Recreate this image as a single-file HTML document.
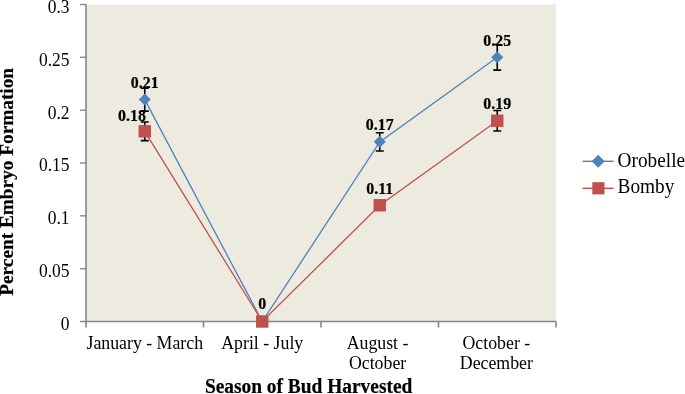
<!DOCTYPE html>
<html><head><meta charset="utf-8"><style>
html,body{margin:0;padding:0;background:#fff;}
body{width:685px;height:394px;overflow:hidden;}
svg{display:block;will-change:transform;}
text{font-family:"Liberation Serif",serif;fill:#000;}
.tk{font-size:17.5px;}
.lg{font-size:17.5px;}
.dl{font-size:15.5px;font-weight:bold;}
text[font-weight=bold]{stroke:#000;stroke-width:0.2px;}
.ti{font-size:19.2px;font-weight:bold;}
</style></head><body>
<svg width="685" height="394" viewBox="0 0 685 394">
<rect x="86.0" y="4.5" width="470.0" height="317.0" fill="#EDEBE0"/>
<path d="M86.0 4.2V322.0" stroke="#868686" stroke-width="1.6" fill="none"/>
<path d="M85.2 321.5H556.0" stroke="#868686" stroke-width="1.6" fill="none"/>
<path d="M80 321.50H86.0" stroke="#868686" stroke-width="1.4"/>
<path d="M80 268.67H86.0" stroke="#868686" stroke-width="1.4"/>
<path d="M80 215.83H86.0" stroke="#868686" stroke-width="1.4"/>
<path d="M80 163.00H86.0" stroke="#868686" stroke-width="1.4"/>
<path d="M80 110.17H86.0" stroke="#868686" stroke-width="1.4"/>
<path d="M80 57.33H86.0" stroke="#868686" stroke-width="1.4"/>
<path d="M80 4.50H86.0" stroke="#868686" stroke-width="1.4"/>
<path d="M86.00 321.5V327.5" stroke="#868686" stroke-width="1.6"/>
<path d="M203.50 321.5V327.5" stroke="#868686" stroke-width="1.6"/>
<path d="M321.00 321.5V327.5" stroke="#868686" stroke-width="1.6"/>
<path d="M438.50 321.5V327.5" stroke="#868686" stroke-width="1.6"/>
<path d="M556.00 321.5V327.5" stroke="#868686" stroke-width="1.6"/>
<text transform="translate(69.50 329.90) scale(1 1.11)" text-anchor="end" font-size="17.5">0</text>
<text transform="translate(69.50 277.07) scale(1 1.11)" text-anchor="end" font-size="17.5">0.05</text>
<text transform="translate(69.50 224.23) scale(1 1.11)" text-anchor="end" font-size="17.5">0.1</text>
<text transform="translate(69.50 171.40) scale(1 1.11)" text-anchor="end" font-size="17.5">0.15</text>
<text transform="translate(69.50 118.57) scale(1 1.11)" text-anchor="end" font-size="17.5">0.2</text>
<text transform="translate(69.50 65.73) scale(1 1.11)" text-anchor="end" font-size="17.5">0.25</text>
<text transform="translate(69.50 12.90) scale(1 1.11)" text-anchor="end" font-size="17.5">0.3</text>
<text transform="translate(144.75 348.70) scale(1 1.08)" text-anchor="middle" font-size="17.8">January - March</text>
<text transform="translate(262.25 348.70) scale(1 1.08)" text-anchor="middle" font-size="17.8">April - July</text>
<text transform="translate(377.55 348.70) scale(1 1.08)" text-anchor="middle" font-size="17.8">August -</text>
<text transform="translate(377.55 369.00) scale(1 1.08)" text-anchor="middle" font-size="17.8">October</text>
<text transform="translate(496.35 348.70) scale(1 1.08)" text-anchor="middle" font-size="17.8">October -</text>
<text transform="translate(496.35 369.00) scale(1 1.08)" text-anchor="middle" font-size="17.8">December</text>
<text transform="translate(308.60 393.30) scale(1 1.065)" text-anchor="middle" font-size="19.4" font-weight="bold">Season of Bud Harvested</text>
<text transform="translate(13.1 67.9) rotate(-90) scale(1 0.97)" text-anchor="end" font-size="19.3" font-weight="bold"><tspan letter-spacing="0">Percent </tspan>Embryo Formation</text>
<polyline points="144.75,99.60 262.25,321.50 379.75,141.87 497.25,57.33" fill="none" stroke="#4F81BD" stroke-width="1.3"/>
<polyline points="144.75,131.30 262.25,321.50 379.75,205.27 497.25,120.73" fill="none" stroke="#C0504D" stroke-width="1.3"/>
<path d="M144.75 88.08V111.12M140.75 88.08H148.75M140.75 111.12H148.75" stroke="#000" stroke-width="1.6" fill="none"/>
<path d="M144.75 93.60L150.75 99.60L144.75 105.60L138.75 99.60Z" fill="#4F81BD"/>
<path d="M262.25 315.50L268.25 321.50L262.25 327.50L256.25 321.50Z" fill="#4F81BD"/>
<path d="M379.75 132.78V150.95M375.75 132.78H383.75M375.75 150.95H383.75" stroke="#000" stroke-width="1.6" fill="none"/>
<path d="M379.75 135.87L385.75 141.87L379.75 147.87L373.75 141.87Z" fill="#4F81BD"/>
<path d="M497.25 44.55V70.12M493.25 44.55H501.25M493.25 70.12H501.25" stroke="#000" stroke-width="1.6" fill="none"/>
<path d="M497.25 51.33L503.25 57.33L497.25 63.33L491.25 57.33Z" fill="#4F81BD"/>
<path d="M144.75 122.00V140.60M140.75 122.00H148.75M140.75 140.60H148.75" stroke="#000" stroke-width="1.6" fill="none"/>
<rect x="138.55" y="125.10" width="12.4" height="12.4" fill="#C0504D"/>
<rect x="256.05" y="315.30" width="12.4" height="12.4" fill="#C0504D"/>
<rect x="373.55" y="199.07" width="12.4" height="12.4" fill="#C0504D"/>
<path d="M497.25 110.48V130.98M493.25 110.48H501.25M493.25 130.98H501.25" stroke="#000" stroke-width="1.6" fill="none"/>
<rect x="491.05" y="114.53" width="12.4" height="12.4" fill="#C0504D"/>
<text transform="translate(144.75 87.90) scale(1 1.04)" text-anchor="middle" font-size="15.9" font-weight="bold">0.21</text>
<text transform="translate(145.90 120.90) scale(1 1.04)" text-anchor="end" font-size="15.9" font-weight="bold">0.18</text>
<text transform="translate(262.25 309.30) scale(1 1.04)" text-anchor="middle" font-size="15.9" font-weight="bold">0</text>
<text transform="translate(379.75 129.97) scale(1 1.04)" text-anchor="middle" font-size="15.9" font-weight="bold">0.17</text>
<text transform="translate(379.75 193.77) scale(1 1.04)" text-anchor="middle" font-size="15.9" font-weight="bold">0.11</text>
<text transform="translate(497.25 45.53) scale(1 1.04)" text-anchor="middle" font-size="15.9" font-weight="bold">0.25</text>
<text transform="translate(497.25 108.73) scale(1 1.04)" text-anchor="middle" font-size="15.9" font-weight="bold">0.19</text>
<path d="M582.6 161.3H613.6" stroke="#4F81BD" stroke-width="1.4"/>
<path d="M598.20 154.80L604.70 161.30L598.20 167.80L591.70 161.30Z" fill="#4F81BD"/>
<text transform="translate(617.60 166.50) scale(1 1.06)" text-anchor="start" font-size="19.3">Orobelle</text>
<path d="M582.6 188.3H613.6" stroke="#C0504D" stroke-width="1.4"/>
<rect x="592.30" y="182.20" width="12.2" height="12.2" fill="#C0504D"/>
<text transform="translate(617.60 192.60) scale(1 1.06)" text-anchor="start" font-size="19.3">Bomby</text>
</svg>
</body></html>
